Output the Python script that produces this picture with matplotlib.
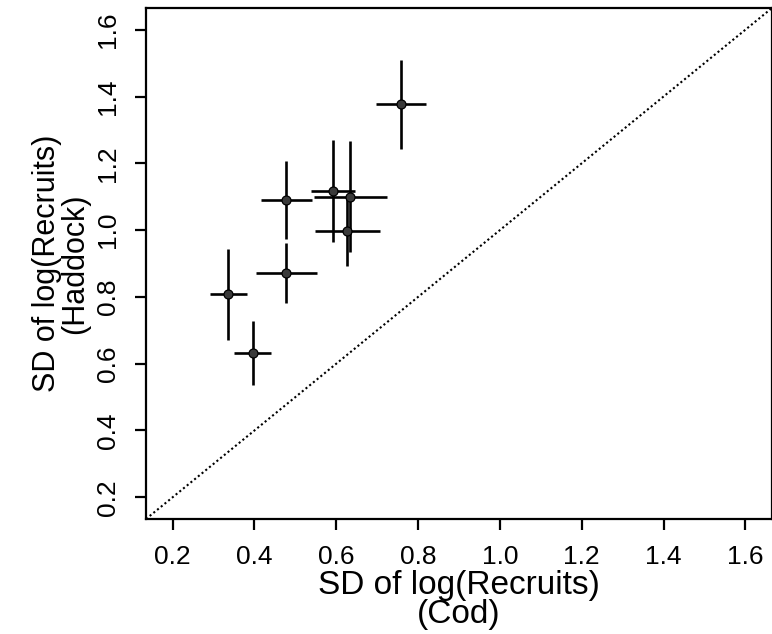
import matplotlib.pyplot as plt

plt.rcParams['font.family'] = ['Liberation Sans', 'DejaVu Sans']

# SD of log(recruits): cod (x) vs haddock (y), with interval bounds
cod_sd = [0.758, 0.591, 0.634, 0.626, 0.478, 0.478, 0.336, 0.396]
cod_lo = [0.696, 0.538, 0.545, 0.547, 0.416, 0.405, 0.292, 0.351]
cod_hi = [0.820, 0.646, 0.724, 0.708, 0.540, 0.553, 0.381, 0.441]
had_sd = [1.377, 1.116, 1.098, 0.996, 1.089, 0.871, 0.808, 0.632]
had_lo = [1.243, 0.964, 0.933, 0.892, 0.972, 0.781, 0.672, 0.537]
had_hi = [1.510, 1.271, 1.267, 1.100, 1.208, 0.962, 0.943, 0.728]
ticks = [0.2, 0.4, 0.6, 0.8, 1.0, 1.2, 1.4, 1.6]
lims = (0.135, 1.665)

fig = plt.figure(figsize=(7.72, 6.34), dpi=100)
ax = fig.add_axes([146/772, 1 - 519/634, 626/772, 511/634])

# crosses
for i in range(len(cod_sd)):
    ax.plot([cod_lo[i], cod_hi[i]], [had_sd[i], had_sd[i]], color='black', lw=1.9, solid_capstyle='butt')
    ax.plot([cod_sd[i], cod_sd[i]], [had_lo[i], had_hi[i]], color='black', lw=1.9, solid_capstyle='butt')
ax.scatter(cod_sd, had_sd, s=42, color='#3a3a3a', edgecolors='black', linewidths=0.9, zorder=3)

# 1:1 line
ax.plot(lims, lims, color='black', ls=(0, (1.0, 1.3)), lw=1.5)

ax.set_xlim(lims)
ax.set_ylim(lims)
ax.set_xticks(ticks)
ax.set_yticks(ticks)
ax.set_xticklabels(['%.1f' % t for t in ticks])
ax.set_yticklabels(['%.1f' % t for t in ticks], rotation=90, va='center')
ax.tick_params(direction='out', length=8, width=1.6, labelsize=19, pad=11)
for s in ax.spines.values():
    s.set_linewidth(1.6)

ax.set_xlabel('SD of log(Recruits)\n(Cod)', fontsize=24, linespacing=0.9)
ax.set_ylabel('SD of log(Recruits)\n(Haddock)', fontsize=22, linespacing=0.9)
ax.xaxis.set_label_coords(0.5, -0.100)
ax.yaxis.set_label_coords(-0.090, 0.5)

plt.savefig('out.png', dpi=100)
